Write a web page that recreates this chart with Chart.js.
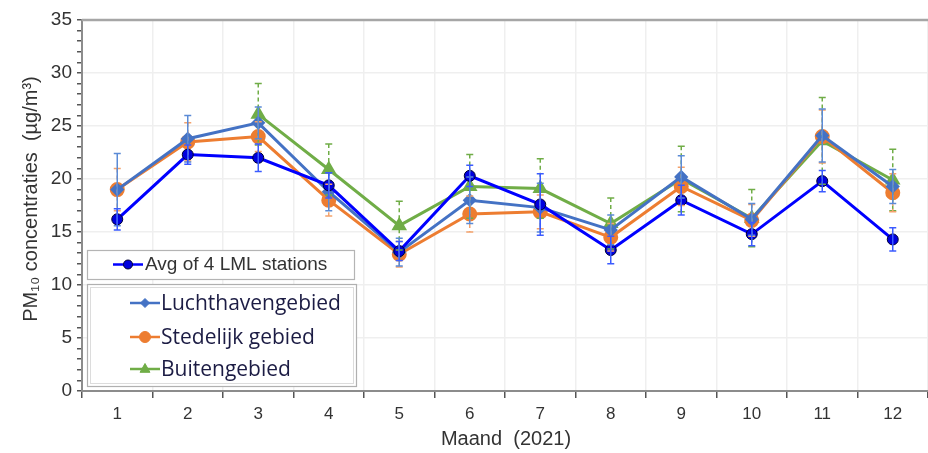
<!DOCTYPE html>
<html>
<head>
<meta charset="utf-8">
<script src="https://cdn.jsdelivr.net/npm/chart.js@4/dist/chart.umd.min.js"></script>
<style>
  html, body { margin: 0; padding: 0; background: #ffffff; }
  #wrap { width: 928px; height: 453px; }
</style>
</head>
<body>
<div id="wrap"><canvas id="c" width="928" height="453"></canvas></div>
<script>
// Monthly mean PM10 concentrations, 2021
const months = ['1', '2', '3', '4', '5', '6', '7', '8', '9', '10', '11', '12'];

const avgLml    = [16.2, 22.3, 22.0, 19.4, 13.2, 20.3, 17.6, 13.3, 18.0, 14.8, 19.8, 14.3];
const avgLmlErr = [1.0, 0.9, 1.3, 1.2, 0.9, 1.0, 2.9, 1.3, 1.4, 1.1, 1.0, 1.1];

const luchthaven    = [19.0, 23.8, 25.3, 18.8, 13.1, 18.0, 17.3, 15.2, 20.2, 16.2, 24.1, 19.3];
const luchthavenErr = [3.4, 2.2, 1.5, 1.8, 1.3, 2.2, 2.3, 1.4, 2.0, 1.5, 2.5, 1.6];

const stedelijk    = [19.0, 23.5, 24.0, 18.0, 12.9, 16.7, 16.9, 14.5, 19.3, 16.1, 24.0, 18.7];
const stedelijkErr = [2.0, 1.8, 1.4, 1.5, 1.2, 1.7, 1.6, 1.3, 1.8, 1.5, 2.5, 1.8];

const buiten    = [null, null, 26.1, 20.9, 15.6, 19.3, 19.1, 15.8, 20.0, 16.3, 23.6, 19.9];
const buitenErr = [null, null, 2.9, 2.4, 2.3, 3.0, 2.8, 2.4, 3.1, 2.7, 4.1, 2.9];

const yTicks = [0, 5, 10, 15, 20, 25, 30, 35];

const BLUE = '#0000ff', LBLUE = '#4472c4', ORANGE = '#ed7d31', GREEN = '#70ad47';

// error bar settings per dataset index
const errorBars = [
  { err: avgLmlErr,     color: '#3b5bff', dash: [] },
  { err: luchthavenErr, color: '#5b8bd6', dash: [] },
  { err: stedelijkErr,  color: '#f4a26c', dash: [4, 3] },
  { err: buitenErr,     color: '#70ad47', dash: [4, 3] }
];

const errorBarPlugin = {
  id: 'errorBars',
  afterDatasetsDraw(chart) {
    const ctx = chart.ctx;
    const xs = chart.scales.x, ys = chart.scales.y;
    ctx.save();
    // draw from last dataset to first so the averages end up on top
    for (let d = errorBars.length - 1; d >= 0; d--) {
      const eb = errorBars[d];
      const vals = chart.data.datasets[d].data;
      ctx.strokeStyle = eb.color;
      ctx.lineWidth = 1.5;
      for (let i = 0; i < vals.length; i++) {
        if (vals[i] == null || eb.err[i] == null) continue;
        const x = xs.getPixelForValue(i);
        const yt = ys.getPixelForValue(vals[i] + eb.err[i]);
        const yb = ys.getPixelForValue(vals[i] - eb.err[i]);
        ctx.setLineDash(eb.dash);
        ctx.beginPath(); ctx.moveTo(x, yt); ctx.lineTo(x, yb); ctx.stroke();
        ctx.setLineDash([]);
        ctx.beginPath();
        ctx.moveTo(x - 3.5, yt); ctx.lineTo(x + 3.5, yt);
        ctx.moveTo(x - 3.5, yb); ctx.lineTo(x + 3.5, yb);
        ctx.stroke();
      }
    }
    ctx.restore();
  }
};

function drawMarker(ctx, style, x, y, r, fill, stroke) {
  ctx.fillStyle = fill; ctx.strokeStyle = stroke; ctx.lineWidth = 1;
  ctx.beginPath();
  if (style === 'circle') {
    ctx.arc(x, y, r, 0, Math.PI * 2);
  } else if (style === 'rectRot') {
    ctx.moveTo(x, y - r); ctx.lineTo(x + r, y); ctx.lineTo(x, y + r); ctx.lineTo(x - r, y); ctx.closePath();
  } else if (style === 'triangle') {
    ctx.moveTo(x, y - r); ctx.lineTo(x + r * 0.9, y + r * 0.6); ctx.lineTo(x - r * 0.9, y + r * 0.6); ctx.closePath();
  }
  ctx.fill(); ctx.stroke();
}

// titles, frame line and the two legend boxes
const decorPlugin = {
  id: 'decor',
  afterDraw(chart) {
    const ctx = chart.ctx;
    const a = chart.chartArea;
    ctx.save();
    // top frame line
    ctx.strokeStyle = '#a6a6a6'; ctx.lineWidth = 2.5;
    ctx.beginPath(); ctx.moveTo(a.left, a.top); ctx.lineTo(a.right, a.top); ctx.stroke();

    // axis titles
    ctx.fillStyle = '#333333';
    ctx.textBaseline = 'middle';
    ctx.textAlign = 'center';
    ctx.font = '20px "Liberation Sans", Arial, sans-serif';
    ctx.fillText('Maand  (2021)', 506, 439);
    ctx.save();
    ctx.translate(31, 199);
    ctx.rotate(-Math.PI / 2);
    ctx.fillText('PM\u2081\u2080 concentraties  (\u00b5g/m\u00b3)', 0, 0);
    ctx.restore();

    // legend box 1
    ctx.fillStyle = '#ffffff';
    ctx.fillRect(87, 250, 267, 29);
    ctx.strokeStyle = '#b4b4b4'; ctx.lineWidth = 1.2;
    ctx.strokeRect(87.5, 250.5, 267, 29);
    ctx.strokeStyle = BLUE; ctx.lineWidth = 2.5;
    ctx.beginPath(); ctx.moveTo(113, 264.5); ctx.lineTo(143, 264.5); ctx.stroke();
    drawMarker(ctx, 'circle', 128, 264.5, 4.5, '#0000dd', '#000033');
    ctx.fillStyle = '#333333'; ctx.textAlign = 'left';
    ctx.font = '19px "Liberation Sans", Arial, sans-serif';
    ctx.fillText('Avg of 4 LML stations', 145, 265);

    // legend box 2
    ctx.fillStyle = '#ffffff';
    ctx.fillRect(87, 284, 269, 102);
    ctx.strokeStyle = '#b0b0b0'; ctx.lineWidth = 1.2;
    ctx.strokeRect(87.5, 284.5, 269, 102);
    ctx.strokeStyle = '#dcdcdc'; ctx.lineWidth = 1;
    ctx.strokeRect(90.5, 287.5, 263, 96);
    const items = [
      { label: 'Luchthavengebied', color: LBLUE, style: 'rectRot', r: 4.5, y: 303 },
      { label: 'Stedelijk gebied', color: ORANGE, style: 'circle', r: 5.5, y: 337 },
      { label: 'Buitengebied', color: GREEN, style: 'triangle', r: 5.5, y: 369 }
    ];
    ctx.font = '21px "Open Sans", "Noto Sans", sans-serif';
    for (const it of items) {
      ctx.strokeStyle = it.color; ctx.lineWidth = 2.5;
      ctx.beginPath(); ctx.moveTo(130, it.y); ctx.lineTo(160, it.y); ctx.stroke();
      drawMarker(ctx, it.style, 145, it.y, it.r, it.color, it.color);
      ctx.fillStyle = '#1c1c44';
      ctx.fillText(it.label, 161, it.y + 1);
    }
    ctx.restore();
  }
};

new Chart(document.getElementById('c'), {
  type: 'line',
  data: {
    labels: months,
    datasets: [
      { label: 'Avg of 4 LML stations', data: avgLml, borderColor: BLUE, backgroundColor: '#0000dd',
        pointBorderColor: '#000033', pointBorderWidth: 1, pointRadius: 5.5, pointStyle: 'circle', borderWidth: 3 },
      { label: 'Luchthavengebied', data: luchthaven, borderColor: LBLUE, backgroundColor: LBLUE,
        pointBorderColor: LBLUE, pointRadius: 5, pointStyle: 'rectRot', borderWidth: 3 },
      { label: 'Stedelijk gebied', data: stedelijk, borderColor: ORANGE, backgroundColor: ORANGE,
        pointBorderColor: ORANGE, pointRadius: 6, pointStyle: 'circle', borderWidth: 3 },
      { label: 'Buitengebied', data: buiten, borderColor: GREEN, backgroundColor: GREEN,
        pointBorderColor: GREEN, pointRadius: 6, pointStyle: 'triangle', borderWidth: 3 }
    ]
  },
  options: {
    responsive: false,
    animation: false,
    devicePixelRatio: 1,
    layout: { autoPadding: false, padding: { left: 0, right: 0, top: 20, bottom: 0 } },
    elements: { line: { tension: 0 } },
    plugins: { legend: { display: false }, tooltip: { enabled: false } },
    scales: {
      x: {
        type: 'category',
        offset: true,
        grid: { offset: true, color: '#efefef', lineWidth: 1.5, tickColor: '#555555', tickLength: 7 },
        border: { color: '#8c8c8c', width: 2 },
        ticks: { color: '#333333', padding: 6, font: { family: '"Liberation Sans", Arial, sans-serif', size: 17 } },
        afterFit(s) { s.height = 62; s.paddingLeft = 0; s.paddingRight = 0; }
      },
      y: {
        min: 0, max: 35,
        afterBuildTicks(s) {
          const t = [];
          for (let v = 0; v <= 35; v++) t.push({ value: v });
          s.ticks = t;
        },
        grid: {
          color: c => (c.tick && yTicks.includes(c.tick.value) && c.tick.value !== 0 && c.tick.value !== 35) ? '#efefef' : 'rgba(0,0,0,0)',
          lineWidth: 1.5,
          tickColor: '#555555',
          tickLength: 5
        },
        border: { color: '#8c8c8c', width: 2 },
        ticks: {
          autoSkip: false,
          color: '#333333',
          padding: 5,
          font: { family: '"Liberation Sans", Arial, sans-serif', size: 19 },
          callback: v => yTicks.includes(v) ? String(v) : ''
        },
        afterFit(s) { s.width = 82; s.paddingTop = 0; s.paddingBottom = 0; }
      }
    }
  },
  plugins: [errorBarPlugin, decorPlugin]
});
</script>
</body>
</html>
